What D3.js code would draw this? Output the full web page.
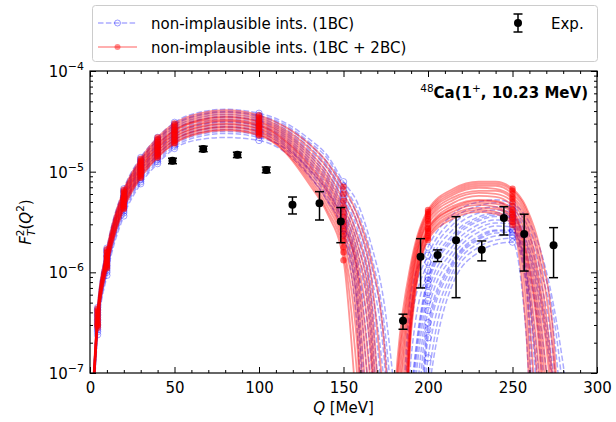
<!DOCTYPE html>
<html><head><meta charset="utf-8">
<script src="https://cdn.jsdelivr.net/npm/d3@7"></script>
<style>
body{margin:0;background:#fff}
svg{display:block}
text{font-family:"DejaVu Sans",sans-serif;fill:#000}
</style>
</head><body>
<svg id="chart" width="616" height="422"></svg>
<script>
// ---------------- DATA (values are log10 of F_T^2) ----------------
// Q grids (MeV) for first and second diffraction lobes
const qLobe1 = [2, 4.5, 10, 20, 30, 40, 50, 65, 80, 100, 115, 130, 140, 150, 158, 166, 174, 182];
const qLobe2 = [174, 182, 190, 200, 215, 230, 240, 250, 258, 266, 274, 282];
// Q values at which the computed points carry a marker
const markerQ = [4.5, 10, 20, 30, 40, 50, 100, 150, 200, 250];

// non-implausible interactions (1BC + 2BC), red
const red1 = [
 [-7.05,-6.36,-5.77,-5.18,-4.87,-4.66,-4.52,-4.42,-4.39,-4.44,-4.55,-4.73,-4.9,-5.15,-5.42,-5.85,-6.7,-9],
 [-7.07,-6.38,-5.8,-5.2,-4.89,-4.68,-4.54,-4.44,-4.41,-4.46,-4.58,-4.77,-4.95,-5.22,-5.5,-6.0,-7.3,-9],
 [-7.09,-6.39,-5.8,-5.21,-4.9,-4.7,-4.56,-4.46,-4.43,-4.48,-4.6,-4.81,-5.0,-5.29,-5.62,-6.2,-8.0,-9],
 [-7.1,-6.41,-5.83,-5.23,-4.92,-4.72,-4.58,-4.48,-4.45,-4.5,-4.62,-4.84,-5.04,-5.35,-5.7,-6.4,-8.5,-9],
 [-7.12,-6.42,-5.84,-5.24,-4.93,-4.73,-4.59,-4.49,-4.46,-4.51,-4.64,-4.87,-5.08,-5.4,-5.78,-6.6,-9,-9],
 [-7.13,-6.44,-5.85,-5.26,-4.95,-4.75,-4.6,-4.5,-4.48,-4.53,-4.66,-4.9,-5.11,-5.45,-5.87,-6.8,-9,-9],
 [-7.15,-6.45,-5.86,-5.27,-4.96,-4.76,-4.62,-4.52,-4.49,-4.54,-4.68,-4.93,-5.15,-5.5,-5.95,-7.1,-9,-9],
 [-7.16,-6.47,-5.88,-5.28,-4.97,-4.77,-4.63,-4.53,-4.5,-4.55,-4.69,-4.95,-5.18,-5.54,-6.02,-7.4,-9,-9],
 [-7.17,-6.48,-5.89,-5.3,-4.99,-4.79,-4.65,-4.55,-4.52,-4.57,-4.71,-4.98,-5.21,-5.59,-6.15,-7.8,-9,-9],
 [-7.19,-6.5,-5.91,-5.32,-5.0,-4.8,-4.66,-4.56,-4.53,-4.58,-4.73,-5.01,-5.25,-5.64,-6.3,-8.3,-9,-9],
 [-7.2,-6.51,-5.92,-5.33,-5.02,-4.82,-4.68,-4.58,-4.55,-4.6,-4.75,-5.04,-5.29,-5.69,-6.5,-9,-9,-9],
 [-7.22,-6.52,-5.93,-5.34,-5.03,-4.83,-4.69,-4.59,-4.56,-4.61,-4.77,-5.07,-5.33,-5.75,-6.7,-9,-9,-9],
 [-7.23,-6.53,-5.95,-5.36,-5.05,-4.85,-4.71,-4.61,-4.58,-4.63,-4.79,-5.1,-5.37,-5.8,-7.0,-9,-9,-9],
 [-7.25,-6.55,-5.96,-5.37,-5.06,-4.86,-4.72,-4.62,-4.59,-4.64,-4.8,-5.13,-5.4,-5.88,-7.4,-9,-9,-9]
];
const red2 = [
 [-9,-7.5,-6.15,-5.49,-5.28,-5.21,-5.22,-5.30,-5.58,-6.35,-7.7,-9],
 [-9,-9,-6.5,-5.64,-5.42,-5.36,-5.37,-5.47,-6.1,-7.8,-9,-9],
 [-9,-6.97,-5.95,-5.40,-5.19,-5.12,-5.12,-5.19,-5.38,-5.85,-6.8,-9],
 [-9,-8.5,-6.35,-5.57,-5.36,-5.29,-5.30,-5.40,-5.8,-6.8,-9,-9],
 [-9,-7.2,-6.05,-5.44,-5.23,-5.16,-5.17,-5.25,-5.47,-6.1,-7.25,-9],
 [-9,-9,-6.6,-5.68,-5.465,-5.40,-5.42,-5.53,-6.55,-9,-9,-9],
 [-9,-7.8,-6.2,-5.52,-5.31,-5.24,-5.25,-5.34,-5.66,-6.5,-8,-9],
 [-9,-7.05,-6.0,-5.42,-5.21,-5.14,-5.14,-5.22,-5.42,-5.95,-7.1,-9],
 [-9,-9,-6.45,-5.61,-5.395,-5.33,-5.35,-5.45,-5.95,-7.3,-9,-9],
 [-9,-6.85,-5.9,-5.38,-5.17,-5.10,-5.10,-5.17,-5.35,-5.75,-6.6,-9],
 [-9,-8.2,-6.3,-5.56,-5.34,-5.28,-5.29,-5.38,-5.75,-6.65,-8.5,-9],
 [-9,-7.35,-6.1,-5.47,-5.255,-5.19,-5.19,-5.27,-5.52,-6.2,-7.4,-9],
 [-9,-9,-6.55,-5.66,-5.44,-5.38,-5.40,-5.50,-6.3,-8.5,-9,-9],
 [-9,-8.8,-6.4,-5.59,-5.37,-5.31,-5.32,-5.42,-5.86,-7.05,-9,-9]
];

// non-implausible interactions (1BC), blue
const blue1 = [
 [-7.04,-6.35,-5.76,-5.17,-4.86,-4.66,-4.51,-4.41,-4.38,-4.42,-4.51,-4.68,-4.83,-5.10,-5.3,-5.7,-6.3,-7.5],
 [-7.06,-6.37,-5.78,-5.19,-4.88,-4.68,-4.53,-4.43,-4.40,-4.44,-4.53,-4.71,-4.86,-5.14,-5.37,-5.8,-6.5,-8],
 [-7.07,-6.38,-5.79,-5.2,-4.89,-4.69,-4.54,-4.44,-4.41,-4.45,-4.55,-4.73,-4.90,-5.18,-5.43,-5.9,-6.65,-8.5],
 [-7.09,-6.4,-5.81,-5.22,-4.91,-4.71,-4.56,-4.46,-4.43,-4.47,-4.57,-4.76,-4.93,-5.22,-5.5,-6.0,-6.85,-9],
 [-7.11,-6.42,-5.83,-5.24,-4.93,-4.73,-4.58,-4.48,-4.45,-4.49,-4.59,-4.79,-4.96,-5.26,-5.56,-6.1,-7.1,-9],
 [-7.12,-6.43,-5.84,-5.25,-4.94,-4.74,-4.59,-4.49,-4.46,-4.5,-4.61,-4.815,-5.0,-5.29,-5.63,-6.2,-7.4,-9],
 [-7.14,-6.45,-5.86,-5.27,-4.96,-4.76,-4.61,-4.51,-4.48,-4.52,-4.63,-4.84,-5.03,-5.33,-5.7,-6.3,-7.8,-9],
 [-7.16,-6.47,-5.88,-5.29,-4.98,-4.78,-4.63,-4.53,-4.5,-4.54,-4.65,-4.87,-5.06,-5.37,-5.78,-6.45,-8.3,-9],
 [-7.17,-6.48,-5.89,-5.3,-4.99,-4.79,-4.64,-4.54,-4.51,-4.55,-4.67,-4.90,-5.09,-5.41,-5.85,-6.6,-9,-9],
 [-7.19,-6.5,-5.91,-5.32,-5.01,-4.81,-4.66,-4.56,-4.53,-4.57,-4.69,-4.92,-5.13,-5.45,-5.93,-7.05,-9,-9],
 [-7.21,-6.52,-5.93,-5.34,-5.03,-4.83,-4.68,-4.58,-4.55,-4.59,-4.705,-4.95,-5.16,-5.49,-6.02,-7.4,-9,-9],
 [-7.22,-6.53,-5.94,-5.35,-5.04,-4.84,-4.69,-4.59,-4.56,-4.6,-4.725,-4.98,-5.19,-5.53,-6.15,-7.9,-9,-9],
 [-7.24,-6.55,-5.96,-5.37,-5.06,-4.86,-4.71,-4.61,-4.58,-4.62,-4.74,-5.0,-5.23,-5.57,-6.3,-8.6,-9,-9],
 [-7.26,-6.57,-5.98,-5.39,-5.08,-4.88,-4.73,-4.63,-4.6,-4.64,-4.77,-5.04,-5.27,-5.62,-6.55,-9,-9,-9],
 [-7.31,-6.62,-6.03,-5.44,-5.12,-4.92,-4.77,-4.68,-4.66,-4.69,-4.8,-5.05,-5.28,-5.62,-6.3,-8.2,-9,-9],
 [-7.28,-6.59,-6.0,-5.41,-5.1,-4.9,-4.75,-4.65,-4.62,-4.66,-4.76,-4.98,-5.18,-5.5,-5.95,-6.8,-9,-9]
];
const blue2 = [
 [-9,-9,-7.5,-6.2,-5.73,-5.525,-5.48,-5.49,-5.79,-6.45,-7.6,-9],
 [-9,-9,-9,-6.65,-5.93,-5.675,-5.61,-5.6,-6.01,-7.5,-9,-9],
 [-9,-9,-6.5,-5.9,-5.52,-5.375,-5.35,-5.38,-5.56,-5.95,-6.55,-8],
 [-9,-9,-8.2,-6.38,-5.83,-5.6,-5.54,-5.55,-5.9,-6.75,-9,-9],
 [-9,-8.2,-6.2,-5.75,-5.42,-5.30,-5.28,-5.32,-5.45,-5.75,-6.3,-7.15],
 [-9,-9,-9,-7.1,-6.03,-5.75,-5.68,-5.66,-6.125,-9,-9,-9],
 [-9,-9,-7.2,-6.05,-5.62,-5.45,-5.41,-5.43,-5.675,-6.15,-7.0,-9],
 [-9,-9,-7.8,-6.28,-5.78,-5.56,-5.51,-5.52,-5.84,-6.6,-8.2,-9],
 [-9,-9,-6.85,-5.98,-5.57,-5.41,-5.38,-5.41,-5.62,-6.05,-6.8,-8.5],
 [-9,-9,-9,-7.25,-6.1,-5.8,-5.72,-5.7,-6.6,-9,-9,-9],
 [-9,-9,-7.35,-6.12,-5.675,-5.49,-5.445,-5.46,-5.73,-6.3,-7.2,-9],
 [-9,-9,-8.6,-6.5,-5.88,-5.64,-5.58,-5.58,-5.96,-7.1,-9,-9],
 [-9,-8.5,-6.35,-5.83,-5.47,-5.34,-5.31,-5.35,-5.51,-5.85,-6.4,-7.5],
 [-9,-9,-9,-6.85,-5.98,-5.71,-5.64,-5.63,-6.07,-8.2,-9,-9],
 [-9,-9,-7.25,-6.08,-5.65,-5.47,-5.43,-5.45,-5.70,-6.22,-7.1,-9],
 [-9,-9,-8.8,-6.57,-5.9,-5.66,-5.59,-5.59,-5.99,-7.3,-9,-9]
];

// experimental data
const expQ  = [48.8, 67, 87.2, 104.3, 119.8, 135.8, 148.4, 185.2, 195.6, 205.7, 216.6, 231.8, 244.9, 256.9, 274.3];
const expF  = [1.28e-5, 1.68e-5, 1.47e-5, 1.04e-5, 4.7e-6, 4.85e-6, 3.2e-6, 3.3e-7, 1.43e-6, 1.49e-6, 2.08e-6, 1.68e-6, 3.47e-6, 2.4e-6, 1.86e-6];
const expLo = [1.20e-5, 1.58e-5, 1.38e-5, 0.975e-5, 3.8e-6, 3.31e-6, 1.97e-6, 2.72e-7, 7.0e-7, 1.28e-6, 5.6e-7, 1.30e-6, 2.35e-6, 1.03e-6, 8.85e-7];
const expHi = [1.36e-5, 1.79e-5, 1.56e-5, 1.11e-5, 5.6e-6, 6.33e-6, 4.4e-6, 3.84e-7, 2.16e-6, 1.67e-6, 3.57e-6, 2.05e-6, 4.49e-6, 3.78e-6, 2.78e-6];

// axes
const xTicks = [0, 50, 100, 150, 200, 250, 300];
const xMinor = d3.range(0, 301, 10).filter(v => v % 50 !== 0);
const yMajorExp = [-7, -6, -5, -4];
const legendLabels = ["non-implausible ints. (1BC)", "non-implausible ints. (1BC + 2BC)", "Exp."];

// ---------------- DRAW ----------------
const svg = d3.select("#chart");
const L = 90, R = 597, T = 71, B = 373;
const x = d3.scaleLinear().domain([0, 300]).range([L, R]);
const y = d3.scaleLog().domain([1e-7, 1e-4]).range([B, T]);
const yMinor = [];
yMajorExp.slice(0, 3).forEach(e => { for (let k = 2; k <= 9; k++) yMinor.push(k * Math.pow(10, e)); });

svg.append("defs").append("clipPath").attr("id", "clip")
  .append("rect").attr("x", L).attr("y", T).attr("width", R - L).attr("height", B - T);

const plot = svg.append("g").attr("clip-path", "url(#clip)");
const line = d3.line().x(d => x(d[0])).y(d => y(Math.pow(10, d[1]))).curve(d3.curveMonotoneX);

function drawSet(lobes1, lobes2, color, dashed, filled, lineOp, lw, markOp) {
  const g = plot.append("g");
  lobes1.forEach((row, i) => {
    [[qLobe1, row], [qLobe2, lobes2[i]]].forEach(([qs, vals]) => {
      const pts = qs.map((q, j) => [q, vals[j]]);
      g.append("path").attr("d", line(pts))
        .attr("fill", "none").attr("stroke", color).attr("stroke-opacity", lineOp)
        .attr("stroke-width", lw)
        .attr("stroke-dasharray", dashed ? "5.5,2.4" : null);
    });
  });
  lobes1.forEach((row, i) => {
    [[qLobe1, row], [qLobe2, lobes2[i]]].forEach(([qs, vals]) => {
      qs.forEach((q, j) => {
        if (!markerQ.includes(q)) return;
        const c = g.append("circle").attr("cx", x(q)).attr("cy", y(Math.pow(10, vals[j]))).attr("r", 3.2);
        if (filled) c.attr("fill", color).attr("fill-opacity", markOp).attr("stroke", "none");
        else c.attr("fill", "none").attr("stroke", color).attr("stroke-opacity", markOp).attr("stroke-width", 1);
      });
    });
  });
}
drawSet(blue1, blue2, "#0000ff", true, false, 0.33, 1.5, 0.35);
drawSet(red1, red2, "#ff0000", false, true, 0.42, 1.8, 0.55);

// experimental points
const ex = svg.append("g");
expQ.forEach((q, i) => {
  const cx = x(q);
  ex.append("line").attr("x1", cx).attr("x2", cx).attr("y1", y(expLo[i])).attr("y2", y(expHi[i]))
    .attr("stroke", "#000").attr("stroke-width", 1.5);
  [expLo[i], expHi[i]].forEach(v => ex.append("line").attr("x1", cx - 4.5).attr("x2", cx + 4.5)
    .attr("y1", y(v)).attr("y2", y(v)).attr("stroke", "#000").attr("stroke-width", 1.5));
  ex.append("circle").attr("cx", cx).attr("cy", y(expF[i])).attr("r", 4).attr("fill", "#000");
});

// axes (ticks inward on all sides)
function styleAxis(g) { g.select(".domain").remove(); g.selectAll("line").attr("stroke", "#000").attr("stroke-width", 1); }
svg.append("g").attr("transform", `translate(0,${B})`)
  .call(d3.axisBottom(x).tickValues(xTicks).tickSizeInner(-6).tickSizeOuter(0).tickPadding(9).tickFormat(d3.format("d")))
  .call(styleAxis).call(g => g.selectAll("text").attr("font-size", 15).attr("font-family", "DejaVu Sans"));
svg.append("g").attr("transform", `translate(0,${B})`)
  .call(d3.axisBottom(x).tickValues(xMinor).tickSizeInner(-3).tickSizeOuter(0).tickFormat("")).call(styleAxis);
svg.append("g").attr("transform", `translate(0,${T})`)
  .call(d3.axisTop(x).tickValues(xTicks).tickSizeInner(-6).tickSizeOuter(0).tickFormat("")).call(styleAxis);
svg.append("g").attr("transform", `translate(0,${T})`)
  .call(d3.axisTop(x).tickValues(xMinor).tickSizeInner(-3).tickSizeOuter(0).tickFormat("")).call(styleAxis);

const yMajor = yMajorExp.map(e => Math.pow(10, e));
svg.append("g").attr("transform", `translate(${L},0)`)
  .call(d3.axisLeft(y).tickValues(yMajor).tickSizeInner(-6).tickSizeOuter(0).tickFormat("")).call(styleAxis);
svg.append("g").attr("transform", `translate(${L},0)`)
  .call(d3.axisLeft(y).tickValues(yMinor).tickSizeInner(-3).tickSizeOuter(0).tickFormat("")).call(styleAxis);
svg.append("g").attr("transform", `translate(${R},0)`)
  .call(d3.axisRight(y).tickValues(yMajor).tickSizeInner(-6).tickSizeOuter(0).tickFormat("")).call(styleAxis);
svg.append("g").attr("transform", `translate(${R},0)`)
  .call(d3.axisRight(y).tickValues(yMinor).tickSizeInner(-3).tickSizeOuter(0).tickFormat("")).call(styleAxis);

// y tick labels 10^e
yMajorExp.forEach(e => {
  const t = svg.append("text").attr("x", L - 6).attr("y", y(Math.pow(10, e)) + 6)
    .attr("text-anchor", "end").attr("font-size", 15);
  t.append("tspan").text("10");
  t.append("tspan").attr("font-size", 11).attr("dy", -7).text("\u2212" + Math.abs(e));
});

// frame
svg.append("rect").attr("x", L).attr("y", T).attr("width", R - L).attr("height", B - T)
  .attr("fill", "none").attr("stroke", "#000").attr("stroke-width", 1.2);

// axis labels
const xl = svg.append("text").attr("x", (L + R) / 2).attr("y", 413).attr("text-anchor", "middle").attr("font-size", 15);
xl.append("tspan").attr("font-style", "italic").text("Q");
xl.append("tspan").text(" [MeV]");

const yl = svg.append("text").attr("transform", `translate(31,${(T + B) / 2}) rotate(-90)`)
  .attr("text-anchor", "middle").attr("font-size", 15);
yl.append("tspan").attr("font-style", "italic").text("F");
yl.append("tspan").attr("font-style", "italic").attr("font-size", 10.5).attr("dy", 4).text("T");
yl.append("tspan").attr("font-size", 10.5).attr("dx", -6.5).attr("dy", -11).text("2");
yl.append("tspan").attr("dy", 7).text("(");
yl.append("tspan").attr("font-style", "italic").text("Q");
yl.append("tspan").attr("font-size", 10.5).attr("dy", -7).text("2");
yl.append("tspan").attr("dy", 7).text(")");

// annotation
const an = svg.append("text").attr("x", 588).attr("y", 98).attr("text-anchor", "end")
  .attr("font-size", 15).attr("font-weight", "bold");
an.append("tspan").attr("font-size", 10.5).attr("font-weight", "normal").attr("dy", -6).text("48");
an.append("tspan").attr("dy", 6).text("Ca(1");
an.append("tspan").attr("font-size", 10.5).attr("font-weight", "normal").attr("dy", -6).text("+");
an.append("tspan").attr("dy", 6).text(", 10.23 MeV)");

// legend
const lg = svg.append("g");
lg.append("rect").attr("x", 92.5).attr("y", 5.5).attr("width", 505).attr("height", 56).attr("rx", 3)
  .attr("fill", "#fff").attr("fill-opacity", 0.8).attr("stroke", "#cccccc").attr("stroke-width", 1);
const rows = [{y: 23, color: "#0000ff", dashed: true, filled: false, op: 0.33}, {y: 47, color: "#ff0000", dashed: false, filled: true, op: 0.42}];
rows.forEach((r, i) => {
  lg.append("line").attr("x1", 98).attr("x2", 137).attr("y1", r.y).attr("y2", r.y)
    .attr("stroke", r.color).attr("stroke-opacity", r.op).attr("stroke-width", 1.5)
    .attr("stroke-dasharray", r.dashed ? "5.5,2.4" : null);
  const c = lg.append("circle").attr("cx", 117.5).attr("cy", r.y).attr("r", 3);
  if (r.filled) c.attr("fill", r.color).attr("fill-opacity", 0.45);
  else c.attr("fill", "none").attr("stroke", r.color).attr("stroke-opacity", 0.4);
  lg.append("text").attr("x", 151).attr("y", r.y + 5.5).attr("font-size", 15).text(legendLabels[i]);
});
lg.append("line").attr("x1", 518).attr("x2", 518).attr("y1", 14).attr("y2", 32).attr("stroke", "#000").attr("stroke-width", 1.5);
[14, 32].forEach(v => lg.append("line").attr("x1", 513.5).attr("x2", 522.5).attr("y1", v).attr("y2", v).attr("stroke", "#000").attr("stroke-width", 1.5));
lg.append("circle").attr("cx", 518).attr("cy", 23).attr("r", 4).attr("fill", "#000");
lg.append("text").attr("x", 551).attr("y", 28.5).attr("font-size", 15).text(legendLabels[2]);
</script>
</body></html>
